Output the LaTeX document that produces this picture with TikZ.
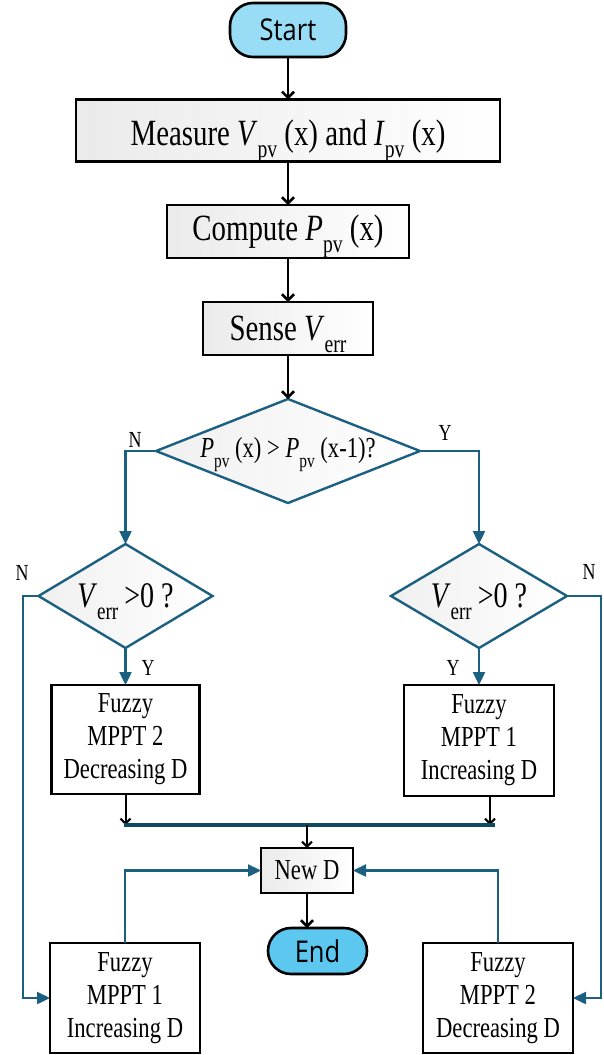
\documentclass[tikz,border=0pt]{standalone}
\usepackage{fontspec}
\usepackage{graphicx}
\setmainfont{Liberation Serif}[FakeStretch=0.78]
\newfontfamily\termfont{Open Sans}[FakeStretch=0.85]
\usetikzlibrary{shapes.geometric,arrows.meta}
\newcommand{\lsub}[1]{\raisebox{-0.32em}[0pt][0pt]{\scalebox{0.68}{#1}}}
\definecolor{teal1}{RGB}{27,96,128}
\definecolor{bardark}{RGB}{14,74,98}
\definecolor{startblue}{RGB}{152,220,245}
\definecolor{endblue}{RGB}{92,200,240}
\begin{document}
\begin{tikzpicture}[x=1pt,y=-1pt,
  term/.style={draw=black,line width=2.6pt,rounded corners=23pt,inner sep=0pt,outer sep=0pt,font=\termfont\fontsize{30}{34}\selectfont},
  gbox/.style={draw=black,line width=2.6pt,left color=black!8,right color=white,inner sep=0pt,outer sep=0pt,font=\fontsize{37}{42}\selectfont},
  wbox/.style={draw=black,line width=2.6pt,fill=white,inner sep=0pt,outer sep=0pt,align=center,font=\fontsize{29}{33}\selectfont},
  dia/.style={diamond,draw=teal1,line width=2.4pt,left color=black!6,right color=white,inner sep=0pt,outer sep=0pt},
  blk/.style={draw=black,line width=2.5pt,-{Straight Barb[length=6pt,width=12pt,line width=2.5pt]}},
  blkthin/.style={draw=black,line width=2pt,-{Straight Barb[length=5pt,width=10pt,line width=2pt]}},
  tarr/.style={draw=teal1,line width=2.4pt,-{Triangle[length=13pt,width=12pt]}},
  lab/.style={font=\fontsize{23}{25}\selectfont,inner sep=0pt}
]
\fill[white] (0,0) rectangle (603,1055);
\useasboundingbox (0,0) rectangle (603,1055);

% nodes
\node[term,fill=startblue,minimum width=116pt,minimum height=54pt] (start) at (288,30) {Start};
\node[gbox,minimum width=424pt,minimum height=62pt,text depth=0pt] (measure) at (288,130.5) {\raisebox{-5pt}{Measure \textit{V}\lsub{pv} (x) and \textit{I}\lsub{pv} (x)}};
\node[gbox,minimum width=242pt,minimum height=53pt] (compute) at (288,231.5) {Compute \textit{P}\lsub{pv} (x)};
\node[gbox,minimum width=170pt,minimum height=53pt] (sense) at (288,328.5) {Sense \textit{V}\lsub{err}};

\node[dia,shape aspect=2.54,minimum width=264pt,minimum height=104pt,font=\fontsize{29}{32}\selectfont] (bigd) at (288,451) {\textit{P}\lsub{pv} (x) {\textgreater} \textit{P}\lsub{pv} (x-1)?};
\node[dia,shape aspect=1.67,minimum width=174pt,minimum height=104pt,font=\fontsize{36}{40}\selectfont] (ldia) at (125.5,596) {\textit{V}\lsub{err}\,{\textgreater}0 ?};
\node[dia,shape aspect=1.69,minimum width=176pt,minimum height=104pt,font=\fontsize{36}{40}\selectfont] (rdia) at (479,596) {\textit{V}\lsub{err}\,{\textgreater}0 ?};

\node[wbox,minimum width=148pt,minimum height=109pt] (fzTL) at (125.5,739.5) {Fuzzy\\MPPT 2\\Decreasing D};
\node[wbox,minimum width=150pt,minimum height=111pt] (fzTR) at (479,740.5) {Fuzzy\\MPPT 1\\Increasing D};

\coordinate (barL) at (124,825);
\coordinate (barR) at (495,825);
\coordinate (barM) at (307,825);

\node[gbox,minimum width=92pt,minimum height=45pt,font=\fontsize{29}{33}\selectfont] (newd) at (307,870.5) {New D};
\node[term,fill=endblue,minimum width=99pt,minimum height=46pt] (end) at (317.5,951) {End};

\node[wbox,minimum width=150pt,minimum height=110pt] (fzBL) at (125,998) {Fuzzy\\MPPT 1\\Increasing D};
\node[wbox,minimum width=150pt,minimum height=110pt] (fzBR) at (498,998) {Fuzzy\\MPPT 2\\Decreasing D};

\coordinate (nl) at (23,596);
\coordinate (nr) at (601,596);

% labels
\node[lab] (lN1) at (135,440) {N};
\node[lab] (lY1) at (445,433) {Y};
\node[lab] (lN2) at (22,573) {N};
\node[lab] (lN3) at (589,572) {N};
\node[lab] (lY2) at (148,668) {Y};
\node[lab] (lY3) at (453,668) {Y};

% main flow
\draw[blk] (start.south) -- (measure.north);
\draw[blk] (measure.south) -- (compute.north);
\draw[blk] (compute.south) -- (sense.north);
\draw[blk] (sense.south) -- (bigd.north);

% branches
\draw[tarr] (bigd.west) -| (ldia.north);
\draw[tarr] (bigd.east) -| (rdia.north);
\draw[tarr] (ldia.south) -- (fzTL.north);
\draw[tarr] (rdia.south) -- (fzTR.north);
\draw[tarr] (ldia.west) -- (nl) |- (fzBL.west);
\draw[tarr] (rdia.east) -- (nr) |- (fzBR.east);

% merge bar
\draw[blkthin] (fzTL.south) -- (fzTL.south |- barL);
\draw[blkthin] (fzTR.south -| 490,0) -- (490,825);
\draw[draw=bardark,line width=3.2pt] (barL) -- (barR);
\draw[blkthin] (barM) -- (newd.north);

% feedback
\draw[tarr] (fzBL.north) |- (newd.west);
\draw[tarr] (fzBR.north) |- (newd.east);

\draw[blk] (newd.south) -- (newd.south |- end.north);
\end{tikzpicture}
\end{document}
